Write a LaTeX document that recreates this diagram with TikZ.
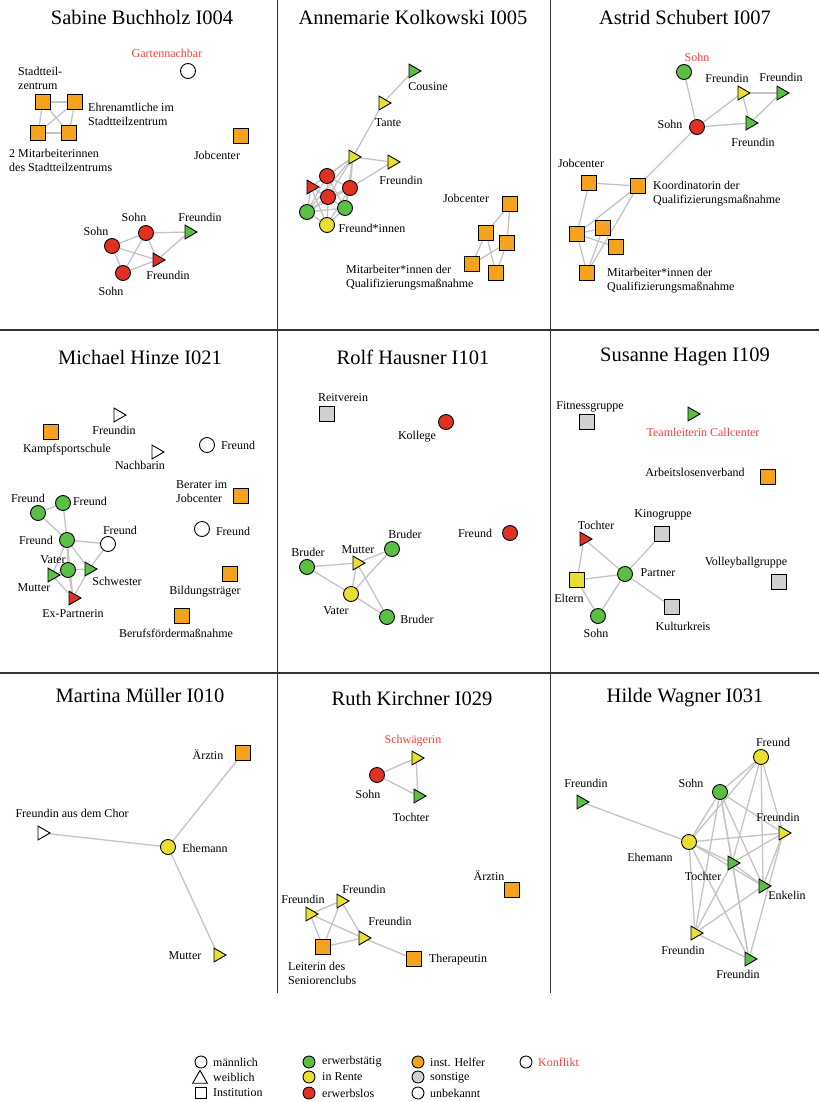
\documentclass[tikz,border=0pt]{standalone}
\usepackage{fontspec}
\setmainfont{Liberation Serif}
\usetikzlibrary{shapes.geometric,backgrounds}
\definecolor{cgreen}{HTML}{5CBF45}
\definecolor{cyellow}{HTML}{E8E030}
\definecolor{cred}{HTML}{E03222}
\definecolor{corange}{HTML}{F5A21E}
\definecolor{cgray}{HTML}{D0D0D0}
\definecolor{edgegray}{HTML}{C4C4C4}
\definecolor{cconf}{HTML}{E8453C}
\definecolor{divgray}{HTML}{333333}
\tikzset{
  nd/.style={draw=black, line width=0.9pt, inner sep=0pt},
  circ/.style={nd, circle, minimum size=15pt},
  sq/.style={nd, rectangle, minimum size=15pt},
  tri/.style={nd, regular polygon, regular polygon sides=3, shape border rotate=-90, minimum size=16pt},
  G/.style={fill=cgreen}, Y/.style={fill=cyellow}, R/.style={fill=cred},
  O/.style={fill=corange}, S/.style={fill=cgray}, W/.style={fill=white},
  lbl/.style={font=\fontsize{12}{14}\selectfont, inner sep=0pt, align=center},
  lbll/.style={lbl, align=left, anchor=west},
  conf/.style={lbl, text=cconf},
  ttl/.style={font=\fontsize{20.5}{24}\selectfont, inner sep=0pt},
  ed/.style={draw=edgegray, line width=1.3pt},
  divl/.style={draw=divgray, line width=1.2pt},
  lgc/.style={nd, circle, minimum size=12pt},
  lgt/.style={nd, regular polygon, regular polygon sides=3, minimum size=17pt},
  lgs/.style={nd, rectangle, minimum size=11pt},
  lgl/.style={lbl, anchor=west}
}
\begin{document}
\begin{tikzpicture}[x=1pt,y=-1pt]
\useasboundingbox (0,0) rectangle (819,1102);
% dividers
\draw[divl] (277.5,0) -- (277.5,993);
\draw[divl] (550.5,0) -- (550.5,993);
\draw[divl] (0,330) -- (819,330);
\draw[divl] (0,673) -- (819,673);
% titles
\node[ttl] (t1) at (142,17) {Sabine Buchholz I004};
\node[ttl] (t2) at (413,17) {Annemarie Kolkowski I005};
\node[ttl] (t3) at (685,17) {Astrid Schubert I007};
\node[ttl] (t4) at (140,357) {Michael Hinze I021};
\node[ttl] (t5) at (413,357) {Rolf Hausner I101};
\node[ttl] (t6) at (685,357) {Susanne Hagen I109};
\node[ttl] (t7) at (140,695) {Martina Müller I010};
\node[ttl] (t8) at (412,698) {Ruth Kirchner I029};
\node[ttl] (t9) at (685,698) {Hilde Wagner I031};

% ---------- Panel 1
\node[circ,W] (a_gn) at (188,71) {};
\node[sq,O] (a_s1) at (43,102) {};
\node[sq,O] (a_s2) at (75,102) {};
\node[sq,O] (a_s3) at (38,133) {};
\node[sq,O] (a_s4) at (69,133) {};
\node[sq,O] (a_jc) at (241,136) {};
\node[circ,R] (a_so1) at (112,246) {};
\node[circ,R] (a_so2) at (146,233) {};
\node[circ,R] (a_so3) at (123,273) {};
\node[tri,R] (a_fr) at (157,260) {};
\node[tri,G] (a_fg) at (189,232) {};
\node[conf] (a_l1) at (167,53) {Gartennachbar};
\node[lbll] (a_l2) at (18,78) {Stadtteil-\\zentrum};
\node[lbll] (a_l3) at (88,114) {Ehrenamtliche im\\Stadtteilzentrum};
\node[lbll] (a_l4) at (9,160) {2 Mitarbeiterinnen\\des Stadtteilzentrums};
\node[lbl] (a_l5) at (217,155) {Jobcenter};
\node[lbl] (a_l6) at (96,231) {Sohn};
\node[lbl] (a_l7) at (134,217) {Sohn};
\node[lbl] (a_l8) at (200,217) {Freundin};
\node[lbl] (a_l9) at (168,275) {Freundin};
\node[lbl] (a_l10) at (111,291) {Sohn};

% ---------- Panel 2
\node[tri,G] (b_co) at (413,71) {};
\node[tri,Y] (b_ta) at (383,103) {};
\node[tri,Y] (b_yt) at (353,157) {};
\node[tri,Y] (b_fr) at (392,162) {};
\node[circ,R] (b_r1) at (327,176) {};
\node[circ,R] (b_r2) at (350,188) {};
\node[circ,R] (b_r3) at (328,197) {};
\node[tri,R] (b_rt) at (311,187) {};
\node[circ,G] (b_g1) at (307,212) {};
\node[circ,G] (b_g2) at (345,208) {};
\node[circ,Y] (b_yc) at (327,225) {};
\node[sq,O] (b_j) at (510,204) {};
\node[sq,O] (b_a) at (486,233) {};
\node[sq,O] (b_b) at (507,243) {};
\node[sq,O] (b_c) at (472,264) {};
\node[sq,O] (b_d) at (496,273) {};
\node[lbl] (b_l1) at (428,87) {Cousine};
\node[lbl] (b_l2) at (388,123) {Tante};
\node[lbl] (b_l3) at (401,180) {Freundin};
\node[lbl] (b_l4) at (372,228) {Freund*innen};
\node[lbl] (b_l5) at (466,198) {Jobcenter};
\node[lbll] (b_l6) at (346,278) {Mitarbeiter*innen der\\Qualifizierungsmaßnahme};

% ---------- Panel 3
\node[circ,G] (c_gc) at (684,72) {};
\node[circ,R] (c_so) at (697,127) {};
\node[tri,Y] (c_fy) at (742,93) {};
\node[tri,G] (c_fg1) at (781,93) {};
\node[tri,G] (c_fg2) at (750,123) {};
\node[sq,O] (c_jc) at (589,183) {};
\node[sq,O] (c_ko) at (638,186) {};
\node[sq,O] (c_A) at (577,234) {};
\node[sq,O] (c_B) at (603,228) {};
\node[sq,O] (c_C) at (616,247) {};
\node[sq,O] (c_D) at (587,273) {};
\node[conf] (c_l1) at (697,57) {Sohn};
\node[lbl] (c_l2) at (670,124) {Sohn};
\node[lbl] (c_l3) at (727,78) {Freundin};
\node[lbl] (c_l4) at (781,77) {Freundin};
\node[lbl] (c_l5) at (753,142) {Freundin};
\node[lbl] (c_l6) at (581,163) {Jobcenter};
\node[lbll] (c_l7) at (653,194) {Koordinatorin der\\Qualifizierungsmaßnahme};
\node[lbll] (c_l8) at (607,281) {Mitarbeiter*innen der\\Qualifizierungsmaßnahme};

% ---------- Panel 4
\node[tri,W] (d_fw) at (118,415) {};
\node[sq,O] (d_ks) at (51,432) {};
\node[tri,W] (d_nb) at (156,452) {};
\node[circ,W] (d_f1) at (207,445) {};
\node[sq,O] (d_bj) at (241,496) {};
\node[circ,W] (d_f2) at (202,529) {};
\node[sq,O] (d_bt) at (230,574) {};
\node[sq,O] (d_bf) at (182,616) {};
\node[circ,G] (d_ga) at (38,513) {};
\node[circ,G] (d_gb) at (63,503) {};
\node[circ,G] (d_gc) at (67,540) {};
\node[circ,W] (d_fw2) at (108,544) {};
\node[circ,G] (d_va) at (68,570) {};
\node[tri,G] (d_mu) at (52,575) {};
\node[tri,G] (d_sw) at (89,569) {};
\node[tri,R] (d_ex) at (73,598) {};
\node[lbl] (d_l1) at (114,430) {Freundin};
\node[lbl] (d_l2) at (67,450) {Kampfsportschule};
\node[lbl] (d_l3) at (140,465) {Nachbarin};
\node[lbl] (d_l4) at (238,445) {Freund};
\node[lbll] (d_l5) at (176,492) {Berater im\\Jobcenter};
\node[lbl] (d_l6) at (233,531) {Freund};
\node[lbl] (d_l7) at (205,592) {Bildungsträger};
\node[lbl] (d_l8) at (176,633) {Berufsfördermaßnahme};
\node[lbl] (d_l9) at (28,498) {Freund};
\node[lbl] (d_l10) at (90,501) {Freund};
\node[lbl] (d_l11) at (36,540) {Freund};
\node[lbl] (d_l12) at (120,530) {Freund};
\node[lbl] (d_l13) at (53,560) {Vater};
\node[lbl] (d_l14) at (34,588) {Mutter};
\node[lbl] (d_l15) at (117,581) {Schwester};
\node[lbl] (d_l16) at (73,614) {Ex-Partnerin};

% ---------- Panel 5
\node[sq,S] (e_re) at (327,414) {};
\node[circ,R] (e_ko) at (446,422) {};
\node[circ,R] (e_fr) at (510,533) {};
\node[circ,G] (e_b1) at (307,567) {};
\node[tri,Y] (e_mu) at (357,563) {};
\node[circ,G] (e_b2) at (392,549) {};
\node[circ,Y] (e_va) at (351,594) {};
\node[circ,G] (e_b3) at (387,617) {};
\node[lbl] (e_l1) at (343,398) {Reitverein};
\node[lbl] (e_l2) at (417,437) {Kollege};
\node[lbl] (e_l3) at (475,533) {Freund};
\node[lbl] (e_l4) at (308,552) {Bruder};
\node[lbl] (e_l5) at (358,550) {Mutter};
\node[lbl] (e_l6) at (405,534) {Bruder};
\node[lbl] (e_l7) at (336,611) {Vater};
\node[lbl] (e_l8) at (417,619) {Bruder};

% ---------- Panel 6
\node[sq,S] (f_fi) at (587,422) {};
\node[tri,G] (f_tl) at (692,414) {};
\node[sq,O] (f_al) at (768,477) {};
\node[sq,S] (f_ki) at (662,534) {};
\node[tri,R] (f_to) at (584,539) {};
\node[circ,G] (f_pa) at (625,574) {};
\node[sq,Y] (f_el) at (577,580) {};
\node[circ,G] (f_so) at (598,616) {};
\node[sq,S] (f_ku) at (672,607) {};
\node[sq,S] (f_vo) at (779,582) {};
\node[lbl] (f_l1) at (590,407) {Fitnessgruppe};
\node[conf] (f_l2) at (703,432) {Teamleiterin Callcenter};
\node[lbl] (f_l3) at (695,472) {Arbeitslosenverband};
\node[lbl] (f_l4) at (663,515) {Kinogruppe};
\node[lbl] (f_l5) at (596,525) {Tochter};
\node[lbl] (f_l6) at (658,573) {Partner};
\node[lbl] (f_l7) at (569,598) {Eltern};
\node[lbl] (f_l8) at (596,633) {Sohn};
\node[lbl] (f_l9) at (683,626) {Kulturkreis};
\node[lbl] (f_l10) at (746,563) {Volleyballgruppe};

% ---------- Panel 7
\node[sq,O] (g_ar) at (243,753) {};
\node[tri,W] (g_fc) at (42,833) {};
\node[circ,Y] (g_eh) at (168,847) {};
\node[tri,Y] (g_mu) at (218,955) {};
\node[lbl] (g_l1) at (208,755) {Ärztin};
\node[lbl] (g_l2) at (72,813) {Freundin aus dem Chor};
\node[lbl] (g_l3) at (205,848) {Ehemann};
\node[lbl] (g_l4) at (185,956) {Mutter};

% ---------- Panel 8
\node[tri,Y] (h_sc) at (416,758) {};
\node[circ,R] (h_so) at (377,775) {};
\node[tri,G] (h_to) at (418,796) {};
\node[sq,O] (h_ar) at (512,890) {};
\node[tri,Y] (h_f1) at (310,914) {};
\node[tri,Y] (h_f2) at (341,901) {};
\node[tri,Y] (h_f3) at (363,938) {};
\node[sq,O] (h_le) at (323,947) {};
\node[sq,O] (h_th) at (414,959) {};
\node[conf] (h_l1) at (413,741) {Schwägerin};
\node[lbl] (h_l2) at (368,794) {Sohn};
\node[lbl] (h_l3) at (411,817) {Tochter};
\node[lbl] (h_l4) at (489,876) {Ärztin};
\node[lbl] (h_l5) at (303,899) {Freundin};
\node[lbl] (h_l6) at (364,889) {Freundin};
\node[lbl] (h_l7) at (390,921) {Freundin};
\node[lbll] (h_l8) at (288,973) {Leiterin des\\Seniorenclubs};
\node[lbl] (h_l9) at (458,960) {Therapeutin};

% ---------- Panel 9
\node[tri,G] (i_fl) at (581,802) {};
\node[circ,Y] (i_fd) at (761,757) {};
\node[circ,G] (i_so) at (720,792) {};
\node[tri,Y] (i_fy) at (783,833) {};
\node[circ,Y] (i_eh) at (689,842) {};
\node[tri,G] (i_to) at (732,863) {};
\node[tri,G] (i_en) at (763,886) {};
\node[tri,Y] (i_fy2) at (695,933) {};
\node[tri,G] (i_fg) at (749,959) {};
\node[lbl] (i_l1) at (586,783) {Freundin};
\node[lbl] (i_l2) at (773,742) {Freund};
\node[lbl] (i_l3) at (691,783) {Sohn};
\node[lbl] (i_l4) at (778,817) {Freundin};
\node[lbl] (i_l5) at (650,857) {Ehemann};
\node[lbl] (i_l6) at (703,876) {Tochter};
\node[lbl] (i_l7) at (787,895) {Enkelin};
\node[lbl] (i_l8) at (683,950) {Freundin};
\node[lbl] (i_l9) at (738,974) {Freundin};

% ---------- Legend
\node[lgc,W] (k_m) at (201,1062) {};
\node[lgt,W] (k_w) at (200,1079) {};
\node[lgs,W] (k_i) at (201,1093) {};
\node[lgc,G] (k_g) at (309,1062) {};
\node[lgc,Y] (k_y) at (309,1077) {};
\node[lgc,R] (k_r) at (309,1093) {};
\node[lgc,O] (k_o) at (418,1062) {};
\node[lgc,S] (k_s) at (418,1077) {};
\node[lgc,W] (k_u) at (418,1093) {};
\node[lgc,W] (k_k) at (526,1062) {};
\node[lgl] (k_l1) at (213,1062) {männlich};
\node[lgl] (k_l2) at (213,1077) {weiblich};
\node[lgl] (k_l3) at (213,1093) {Institution};
\node[lgl] (k_l4) at (322,1062) {erwerbstätig};
\node[lgl] (k_l5) at (322,1077) {in Rente};
\node[lgl] (k_l6) at (322,1093) {erwerbslos};
\node[lgl] (k_l7) at (430,1062) {inst. Helfer};
\node[lgl] (k_l8) at (430,1078) {sonstige};
\node[lgl] (k_l9) at (430,1093) {unbekannt};
\node[lgl,text=cconf] (k_l10) at (538,1062) {Konflikt};

% ---------- Edges
\begin{pgfonlayer}{background}
% panel 1
\draw[ed] (a_s1) -- (a_s2); \draw[ed] (a_s1) -- (a_s3); \draw[ed] (a_s1) -- (a_s4);
\draw[ed] (a_s2) -- (a_s3); \draw[ed] (a_s2) -- (a_s4); \draw[ed] (a_s3) -- (a_s4);
\draw[ed] (a_so1) -- (a_so2); \draw[ed] (a_so1) -- (a_so3); \draw[ed] (a_so1) -- (a_fr);
\draw[ed] (a_so2) -- (a_so3); \draw[ed] (a_so2) -- (a_fr); \draw[ed] (a_so2) -- (a_fg);
\draw[ed] (a_so3) -- (a_fr); \draw[ed] (a_fr) -- (a_fg);
% panel 2
\draw[ed] (b_co) -- (b_ta); \draw[ed] (b_ta) -- (b_yt); \draw[ed] (b_yt) -- (b_fr);
\draw[ed] (b_fr) -- (b_r2);
\foreach \u/\v in {yt/r1,yt/r2,yt/r3,yt/rt,yt/g1,yt/g2,r1/rt,r1/r2,r1/r3,r1/g1,r1/g2,r2/r3,r2/g1,r2/g2,r2/yc,r3/rt,r3/g1,r3/g2,r3/yc,rt/g1,rt/yc,rt/g2,g1/yc,g1/g2,g2/yc}
  \draw[ed] (b_\u) -- (b_\v);
\draw[ed] (b_j) -- (b_a); \draw[ed] (b_j) -- (b_b); \draw[ed] (b_a) -- (b_c);
\draw[ed] (b_a) -- (b_d); \draw[ed] (b_b) -- (b_c); \draw[ed] (b_b) -- (b_d);
% panel 3
\draw[ed] (c_gc) -- (c_so); \draw[ed] (c_so) -- (c_fy); \draw[ed] (c_so) -- (c_fg2);
\draw[ed] (c_fy) -- (c_fg1); \draw[ed] (c_fy) -- (c_fg2); \draw[ed] (c_fg1) -- (c_fg2);
\draw[ed] (c_so) -- (c_ko); \draw[ed] (c_jc) -- (c_ko); \draw[ed] (c_jc) -- (c_A);
\draw[ed] (c_ko) -- (c_A); \draw[ed] (c_ko) -- (c_D); \draw[ed] (c_A) -- (c_B);
\draw[ed] (c_A) -- (c_C); \draw[ed] (c_A) -- (c_D); \draw[ed] (c_B) -- (c_D);
% panel 4
\draw[ed] (d_ga) -- (d_gb); \draw[ed] (d_ga) -- (d_gc); \draw[ed] (d_gb) -- (d_gc);
\draw[ed] (d_gc) -- (d_fw2); \draw[ed] (d_fw2) -- (d_sw); \draw[ed] (d_gc) -- (d_mu);
\draw[ed] (d_gc) -- (d_va); \draw[ed] (d_gc) -- (d_sw); \draw[ed] (d_gc) -- (d_ex);
\draw[ed] (d_mu) -- (d_va); \draw[ed] (d_va) -- (d_sw); \draw[ed] (d_mu) -- (d_ex);
\draw[ed] (d_va) -- (d_ex); \draw[ed] (d_sw) -- (d_ex);
% panel 5
\draw[ed] (e_b1) -- (e_mu); \draw[ed] (e_b1) -- (e_va); \draw[ed] (e_mu) -- (e_b2);
\draw[ed] (e_mu) -- (e_va); \draw[ed] (e_mu) -- (e_b3); \draw[ed] (e_va) -- (e_b2);
\draw[ed] (e_va) -- (e_b3);
% panel 6
\draw[ed] (f_to) -- (f_pa); \draw[ed] (f_to) -- (f_el); \draw[ed] (f_el) -- (f_pa);
\draw[ed] (f_el) -- (f_so); \draw[ed] (f_so) -- (f_pa); \draw[ed] (f_pa) -- (f_ki);
\draw[ed] (f_pa) -- (f_ku);
% panel 7
\draw[ed] (g_eh) -- (g_ar); \draw[ed] (g_eh) -- (g_fc); \draw[ed] (g_eh) -- (g_mu);
% panel 8
\draw[ed] (h_so) -- (h_sc); \draw[ed] (h_so) -- (h_to); \draw[ed] (h_sc) -- (h_to);
\draw[ed] (h_f1) -- (h_f2); \draw[ed] (h_f1) -- (h_le); \draw[ed] (h_f1) -- (h_f3);
\draw[ed] (h_f2) -- (h_le); \draw[ed] (h_f2) -- (h_f3); \draw[ed] (h_le) -- (h_f3);
\draw[ed] (h_f3) -- (h_th);
% panel 9
\draw[ed] (i_fl) -- (i_eh);
\foreach \u/\v in {fd/so,fd/eh,fd/to,fd/en,fd/fy,so/eh,so/fy,so/to,so/en,so/fy2,so/fg,eh/fy,eh/to,eh/en,eh/fy2,eh/fg,to/fy,to/fy2,to/fg,en/fy,en/fy2,fy/fg,fy2/fg,to/en}
  \draw[ed] (i_\u) -- (i_\v);
\end{pgfonlayer}
\end{tikzpicture}
\end{document}
